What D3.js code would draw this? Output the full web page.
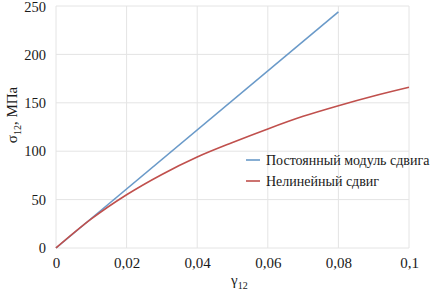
<!DOCTYPE html>
<html><head><meta charset="utf-8">
<script src="https://cdn.jsdelivr.net/npm/d3@7"></script>
<style>body{margin:0;background:#fff}svg{display:block}</style>
</head><body>
<svg id="c" width="434" height="294"></svg>
<script>
const xTicks = [0, 0.02, 0.04, 0.06, 0.08, 0.1];
const xTickLabels = ["0", "0,02", "0,04", "0,06", "0,08", "0,1"];
const yTicks = [0, 50, 100, 150, 200, 250];
const seriesNames = ["Постоянный модуль сдвига", "Нелинейный сдвиг"];
const linearGamma = [0, 0.08];
const linearSigma = [0, 244];
const nonlinGamma = [0, 0.01, 0.02, 0.03, 0.04, 0.05, 0.06, 0.07, 0.08, 0.09, 0.1];
const nonlinSigma = [0, 30, 55, 76, 94, 109, 123, 136, 147, 157, 166];
const colors = ["#6a9ac9", "#c0504d"];
const FONT = '"Liberation Serif"';
const TXT = "#1a1a1a";

const svg = d3.select("#c");
const x = d3.scaleLinear().domain([0, 0.1]).range([56, 409]);
const y = d3.scaleLinear().domain([0, 250]).range([248, 6]);

// grid
svg.append("g").selectAll("line").data(yTicks).join("line")
  .attr("x1", x(0)).attr("x2", x(0.1)).attr("y1", d => y(d)).attr("y2", d => y(d))
  .attr("stroke", "#e4e4e4").attr("stroke-width", 1);
svg.append("g").selectAll("line").data(xTicks).join("line")
  .attr("y1", y(0)).attr("y2", y(250)).attr("x1", d => x(d)).attr("x2", d => x(d))
  .attr("stroke", "#e4e4e4").attr("stroke-width", 1);

// y tick labels
const yAxis = d3.axisLeft(y).tickValues(yTicks).tickSize(0).tickPadding(10);
const gy = svg.append("g").attr("transform", `translate(${x(0)},0)`).call(yAxis);
gy.select(".domain").remove();
gy.selectAll("text").style("font-family", FONT).style("font-size", "14.5px").attr("fill", TXT);
gy.selectAll("text").filter(d => d === 250).attr("dy", "0.38em");

const xAxis = d3.axisBottom(x).tickValues(xTicks).tickSize(0).tickPadding(9)
  .tickFormat((d, i) => xTickLabels[i]);
const gx = svg.append("g").attr("transform", `translate(0,${y(0)})`).call(xAxis);
gx.select(".domain").remove();
gx.selectAll("text").style("font-family", FONT).style("font-size", "15px").attr("fill", TXT);

// series
const line = d3.line().x(d => x(d[0])).y(d => y(d[1]));
svg.append("path").datum(linearGamma.map((g, i) => [g, linearSigma[i]]))
  .attr("d", line).attr("fill", "none").attr("stroke", colors[0]).attr("stroke-width", 1.6);
const cline = d3.line().x(d => x(d[0])).y(d => y(d[1])).curve(d3.curveMonotoneX);
svg.append("path").datum(nonlinGamma.map((g, i) => [g, nonlinSigma[i]]))
  .attr("d", cline).attr("fill", "none").attr("stroke", colors[1]).attr("stroke-width", 1.6);

// legend
const lg = svg.append("g");
seriesNames.forEach((n, i) => {
  const yy = 160 + i * 21;
  lg.append("line").attr("x1", 246).attr("x2", 260).attr("y1", yy).attr("y2", yy)
    .attr("stroke", colors[i]).attr("stroke-width", 1.6);
  lg.append("text").attr("x", 266).attr("y", yy + 5).text(n)
    .style("font-family", FONT).style("font-size", "14px").attr("fill", TXT);
});

// axis titles
const xt = svg.append("text").attr("x", 231).attr("y", 285)
  .style("font-family", FONT).style("font-size", "15px").attr("fill", TXT);
xt.append("tspan").text("γ");
xt.append("tspan").text("12").style("font-size", "10px").attr("dy", 4);

const yt = svg.append("text").attr("transform", "translate(17,115) rotate(-90)")
  .attr("text-anchor", "middle").style("font-family", FONT).style("font-size", "15px").attr("fill", TXT);
yt.append("tspan").text("σ");
yt.append("tspan").text("12").style("font-size", "10px").attr("dy", 4);
yt.append("tspan").text(", МПа").attr("dy", -4);
</script>
</body></html>
